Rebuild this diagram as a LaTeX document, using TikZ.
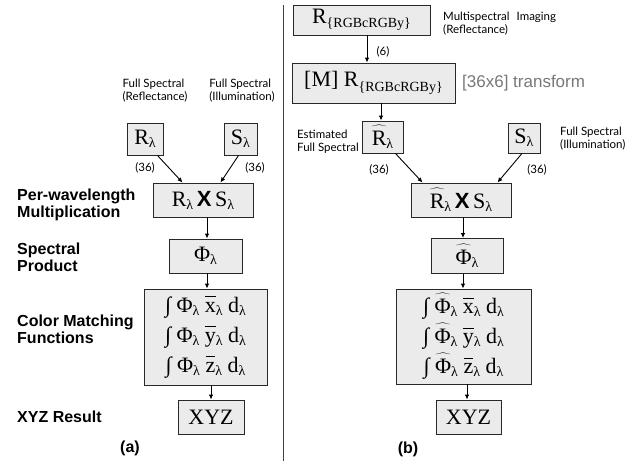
\documentclass[tikz,border=0pt]{standalone}
\usepackage{fontspec}
\usepackage{tikz}
\usetikzlibrary{positioning, arrows.meta, calc}
\setmainfont{Liberation Serif}
\newfontfamily\lblfont{Lato}
\newfontfamily\headfont{Liberation Sans}
\definecolor{boxgray}{RGB}{235, 235, 235}
\definecolor{edgegray}{RGB}{40, 40, 40}
\definecolor{notegray}{RGB}{120, 120, 120}
\newcommand{\boxfont}{\fontsize{22}{30}\selectfont}
\newcommand{\lam}{\raisebox{-0.3ex}{\fontsize{14}{14}\selectfont λ}}
\newcommand{\chan}{\raisebox{-0.45ex}{\fontsize{14}{14}\selectfont\{RGBcRGBy\}}}
\newcommand{\Rhat}{\ensuremath{\widehat{\mbox{R\rule{0pt}{0.78em}}}}}
\newcommand{\Phihat}{\ensuremath{\widehat{\mbox{Φ\rule{0pt}{0.78em}}}}}
\newcommand{\cmfbar}[1]{\ensuremath{\overline{\mbox{#1}\vphantom{\mbox{X}}}}}
\newcommand{\bigx}{\,{\headfont\bfseries X}\,}
\tikzset{
  blk/.style={rectangle, draw=edgegray, fill=boxgray, line width=0.9pt,
    inner sep=0pt, align=center, font=\boxfont},
  note/.style={align=left, inner sep=0pt, font=\lblfont\fontsize{11.5}{13}\selectfont},
  head/.style={anchor=west, align=left, inner sep=0pt, font=\headfont\bfseries\fontsize{16}{17}\selectfont},
  cnt/.style={inner sep=0pt, font=\lblfont\fontsize{11.5}{13}\selectfont},
  flow/.style={-{Latex[length=5pt, width=4.5pt]}, line width=0.9pt, black},
}
\begin{document}
\begin{tikzpicture}[x=1pt, y=-1pt]
  \useasboundingbox (0,0) rectangle (641,461);
  % (a) full spectral path
  \node[note] (rlab) at (155,91) {Full Spectral\\(Reflectance)};
  \node[note] (slab) at (242,91) {Full Spectral\\(Illumination)};
  \node[blk, minimum width=36pt, minimum height=32pt] (r) at (145,139) {R\lam};
  \node[blk, minimum width=33pt, minimum height=32pt] (s) at (240.5,139) {S\lam};
  \node[cnt] (rn) at (145,168) {(36)};
  \node[cnt] (sn) at (255,168) {(36)};
  \node[blk, minimum width=100pt, minimum height=34pt] (rs) at (203,200) {R\lam\bigx S\lam};
  \node[blk, minimum width=73pt, minimum height=34pt] (phi) at (205.5,256) {Φ\lam};
  \node[blk, minimum width=123pt, minimum height=96pt] (cmf) at (205.5,337)
    {∫ Φ\lam\ \cmfbar{x}\lam\ d\lam\\∫ Φ\lam\ \cmfbar{y}\lam\ d\lam\\∫ Φ\lam\ \cmfbar{z}\lam\ d\lam};
  \node[blk, minimum width=66pt, minimum height=34pt] (xyz) at (211,417) {XYZ};
  \node[head] (hmul) at (17,205) {Per-wavelength\\Multiplication};
  \node[head] (hprod) at (17,257) {Spectral\\Product};
  \node[head] (hcmf) at (17,329) {Color Matching\\Functions};
  \node[head] (hxyz) at (17,417) {XYZ Result};
  \node[head, anchor=center] (capa) at (130,448) {(a)};
  \draw[flow] ([xshift=-6pt]r.south east) -- ([xshift=30pt]rs.north west);
  \draw[flow] ([xshift=-2pt]s.south) -- ([xshift=-33pt]rs.north east);
  \draw[flow] (rs.south -| 207,0) -- (phi.north -| 207,0);
  \draw[flow] (phi.south -| 207,0) -- (cmf.north -| 207,0);
  \draw[flow] (cmf.south -| xyz) -- (xyz.north);
  % divider
  \draw[line width=0.9pt, black!75] (283,5) -- (283,461);
  % (b) multispectral path
  \node[blk, minimum width=137pt, minimum height=30pt] (msi) at (361.5,20) {R\chan};
  \node[note, anchor=west] (msilab) at (443,24) {Multispectral\hspace{7pt}Imaging\\(Reflectance)};
  \node[cnt] (msin) at (383,52) {(6)};
  \node[blk, minimum width=163pt, minimum height=40pt] (mt) at (373.5,83) {[M] R\chan};
  \node[anchor=west, inner sep=0pt, text=notegray, font=\headfont\fontsize{17}{17}\selectfont] (mtlab) at (462,83) {[36x6] transform};
  \node[blk, minimum width=41pt, minimum height=32pt] (rh) at (382.5,137) {\Rhat\lam};
  \node[note, anchor=east] (rhlab) at (359,142) {Estimated\\Full Spectral};
  \node[blk, minimum width=32pt, minimum height=30pt] (s2) at (524,138) {S\lam};
  \node[note, anchor=west] (s2lab) at (560,139) {Full Spectral\\(Illumination)};
  \node[cnt] (rhn) at (379,170) {(36)};
  \node[cnt] (s2n) at (537,170) {(36)};
  \node[blk, minimum width=100pt, minimum height=34pt] (rs2) at (461,200) {\Rhat\lam\bigx S\lam};
  \node[blk, minimum width=72pt, minimum height=35pt] (phi2) at (467,256) {\Phihat\lam};
  \node[blk, minimum width=135pt, minimum height=95pt] (cmf2) at (463.5,336.5)
    {∫ \Phihat\lam\ \cmfbar{x}\lam\ d\lam\\∫ \Phihat\lam\ \cmfbar{y}\lam\ d\lam\\∫ \Phihat\lam\ \cmfbar{z}\lam\ d\lam};
  \node[blk, minimum width=65pt, minimum height=34pt] (xyz2) at (468.5,417) {XYZ};
  \node[head, anchor=center] (capb) at (408,449) {(b)};
  \draw[flow] (msi.south -| 367,0) -- (mt.north -| 367,0);
  \draw[flow] (mt.south -| 381,0) -- (rh.north -| 381,0);
  \draw[flow] ([xshift=-8pt]rh.south east) -- ([xshift=12pt]rs2.north west);
  \draw[flow] ([xshift=-2pt]s2.south) -- ([xshift=-14pt]rs2.north east);
  \draw[flow] (rs2.south -| 463,0) -- (phi2.north -| 463,0);
  \draw[flow] (phi2.south -| 463,0) -- (cmf2.north -| 463,0);
  \draw[flow] (cmf2.south -| 467,0) -- (xyz2.north -| 467,0);
\end{tikzpicture}
\end{document}
